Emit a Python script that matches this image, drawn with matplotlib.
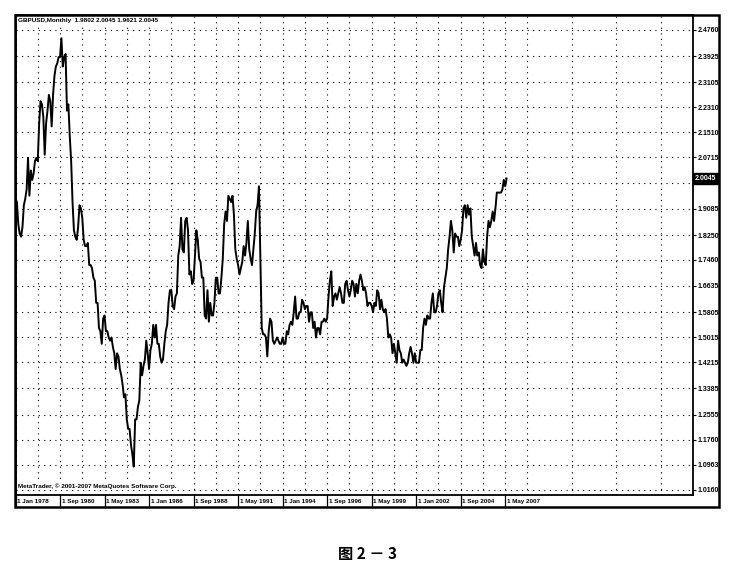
import numpy as np
import matplotlib.pyplot as plt
from matplotlib.patches import Rectangle
from matplotlib.transforms import blended_transform_factory

# GBPUSD monthly closes, Jan 1978 .. Jun 2007
c1978 = [1.94, 1.93, 1.86, 1.83, 1.82, 1.85, 1.92, 1.94, 1.97, 2.07, 1.95, 2.03]
c1979 = [2.00, 2.02, 2.06, 2.07, 2.06, 2.18, 2.25, 2.24, 2.20, 2.08, 2.18, 2.22]
c1980 = [2.27, 2.25, 2.17, 2.27, 2.33, 2.36, 2.37, 2.39, 2.39, 2.45, 2.36, 2.39]
c1981 = [2.40, 2.22, 2.24, 2.14, 2.06, 1.93, 1.84, 1.82, 1.81, 1.85, 1.92, 1.91]
c1982 = [1.88, 1.81, 1.79, 1.79, 1.80, 1.73, 1.73, 1.72, 1.69, 1.68, 1.61, 1.61]
c1983 = [1.53, 1.52, 1.48, 1.56, 1.57, 1.52, 1.52, 1.50, 1.49, 1.50, 1.47, 1.45]
c1984 = [1.40, 1.45, 1.44, 1.40, 1.38, 1.35, 1.31, 1.32, 1.24, 1.21, 1.21, 1.16]
c1985 = [1.13, 1.09, 1.24, 1.24, 1.28, 1.30, 1.42, 1.38, 1.41, 1.43, 1.49, 1.45]
c1986 = [1.40, 1.46, 1.48, 1.54, 1.50, 1.54, 1.48, 1.48, 1.44, 1.42, 1.43, 1.48]
c1987 = [1.52, 1.54, 1.61, 1.65, 1.65, 1.60, 1.59, 1.63, 1.64, 1.76, 1.79, 1.88]
c1988 = [1.78, 1.77, 1.87, 1.88, 1.84, 1.70, 1.71, 1.67, 1.68, 1.76, 1.84, 1.81]
c1989 = [1.75, 1.74, 1.69, 1.69, 1.57, 1.56, 1.65, 1.55, 1.61, 1.57, 1.57, 1.61]
c1990 = [1.69, 1.69, 1.64, 1.64, 1.69, 1.75, 1.86, 1.90, 1.87, 1.95, 1.94, 1.93]
c1991 = [1.95, 1.89, 1.78, 1.75, 1.73, 1.70, 1.72, 1.74, 1.79, 1.76, 1.80, 1.87]
c1992 = [1.78, 1.75, 1.73, 1.78, 1.83, 1.90, 1.92, 1.98, 1.75, 1.53, 1.51, 1.51]
c1993 = [1.50, 1.44, 1.52, 1.56, 1.55, 1.49, 1.48, 1.49, 1.50, 1.49, 1.48, 1.48]
c1994 = [1.50, 1.48, 1.48, 1.52, 1.51, 1.54, 1.55, 1.54, 1.58, 1.63, 1.56, 1.56]
c1995 = [1.58, 1.58, 1.62, 1.61, 1.59, 1.60, 1.60, 1.55, 1.58, 1.58, 1.53, 1.55]
c1996 = [1.50, 1.53, 1.53, 1.51, 1.55, 1.55, 1.56, 1.55, 1.56, 1.63, 1.68, 1.71]
c1997 = [1.60, 1.63, 1.64, 1.62, 1.64, 1.66, 1.64, 1.61, 1.61, 1.67, 1.68, 1.65]
c1998 = [1.63, 1.65, 1.68, 1.67, 1.63, 1.67, 1.64, 1.68, 1.70, 1.68, 1.65, 1.66]
c1999 = [1.64, 1.60, 1.61, 1.61, 1.60, 1.58, 1.61, 1.60, 1.65, 1.64, 1.59, 1.62]
c2000 = [1.59, 1.58, 1.59, 1.56, 1.50, 1.51, 1.50, 1.45, 1.48, 1.45, 1.42, 1.49]
c2001 = [1.46, 1.45, 1.42, 1.43, 1.42, 1.41, 1.42, 1.45, 1.47, 1.45, 1.42, 1.45]
c2002 = [1.42, 1.42, 1.42, 1.46, 1.46, 1.53, 1.56, 1.54, 1.57, 1.56, 1.56, 1.61]
c2003 = [1.64, 1.58, 1.58, 1.60, 1.64, 1.65, 1.61, 1.58, 1.66, 1.69, 1.72, 1.78]
c2004 = [1.82, 1.87, 1.84, 1.77, 1.83, 1.82, 1.82, 1.79, 1.81, 1.84, 1.91, 1.92]
c2005 = [1.88, 1.92, 1.89, 1.91, 1.82, 1.79, 1.76, 1.80, 1.76, 1.77, 1.73, 1.72]
c2006 = [1.78, 1.74, 1.73, 1.82, 1.87, 1.85, 1.87, 1.90, 1.87, 1.91, 1.96, 1.96]
c2007 = [1.96, 1.96, 1.97, 2.00, 1.98, 2.0045]

years = [c1978, c1979, c1980, c1981, c1982, c1983, c1984, c1985, c1986, c1987,
         c1988, c1989, c1990, c1991, c1992, c1993, c1994, c1995, c1996, c1997,
         c1998, c1999, c2000, c2001, c2002, c2003, c2004, c2005, c2006, c2007]

date_labels = ['1 Jan 1978', '1 Sep 1980', '1 May 1983', '1 Jan 1986', '1 Sep 1988',
               '1 May 1991', '1 Jan 1994', '1 Sep 1996', '1 May 1999', '1 Jan 2002',
               '1 Sep 2004', '1 May 2007']
price_labels = ['2.4760', '2.3925', '2.3105', '2.2310', '2.1510', '2.0715', '1.9905',
                '1.9085', '1.8250', '1.7460', '1.6635', '1.5805', '1.5015', '1.4215',
                '1.3385', '1.2555', '1.1760', '1.0963', '1.0160']
last_price = 2.0045
header = 'GBPUSD,Monthly  1.9802 2.0045 1.9621 2.0045'
footer = 'MetaTrader, \u00a9 2001-2007 MetaQuotes Software Corp.'
caption = '图 2 － 3'

W, H = 750, 568
small = 'Liberation Sans'

closes = np.concatenate([np.array(y) for y in years])
months = np.arange(len(closes))

fig = plt.figure(figsize=(W / 100, H / 100), dpi=100)
fig.patch.set_facecolor('white')

# plot area in pixel coords
x0, x1, y0, y1 = 15.5, 693, 15, 495
ax = fig.add_axes([x0 / W, 1 - y1 / H, (x1 - x0) / W, (y1 - y0) / H])

ax.plot(months, closes, color='black', lw=1.4, zorder=3)

ax.set_xlim(0, 487)
ax.set_ylim(1.0001, 2.5236)

# vertical grid every 16 bars, labelled ticks every 32 bars
ax.set_xticks(np.arange(0, len(date_labels) * 32, 32))
ax.set_xticks(np.arange(16, 487, 32), minor=True)
ax.tick_params(axis='x', which='major', length=8.6, width=0.9, direction='out',
               labelbottom=False)
ax.tick_params(axis='x', which='minor', length=0)

ticks_y = [float(v) for v in price_labels]
ax.set_yticks(ticks_y)
ax.yaxis.tick_right()
ax.set_yticklabels(price_labels)
ax.tick_params(axis='y', length=2.5, width=0.8, pad=0.8, labelsize=5)
for lbl in ax.get_yticklabels():
    lbl.set_fontfamily(small)
    lbl.set_fontweight('bold')

ax.grid(True, which='both', axis='x', color='black', lw=0.8, ls=(0, (1, 4)))
ax.grid(True, which='major', axis='y', color='black', lw=0.8, ls=(0, (1, 4)))
ax.set_axisbelow(True)

for s in ax.spines.values():
    s.set_linewidth(1.3)

# date labels under the axis
tr = blended_transform_factory(ax.transData, fig.transFigure)
for i, lab in enumerate(date_labels):
    ax.text(i * 32 + 1.2, 1 - 501.5 / H, lab, transform=tr, ha='left', va='center',
            fontsize=4.5, fontweight='bold', family=small, clip_on=False)

white_box = dict(boxstyle='square,pad=0.15', fc='white', ec='none')
ax.text(0.004, 0.993, header, transform=ax.transAxes, ha='left', va='top',
        fontsize=4.6, fontweight='bold', family=small, zorder=5, bbox=white_box)
ax.text(0.004, 0.012, footer, transform=ax.transAxes, ha='left', va='bottom',
        fontsize=4.6, fontweight='bold', family=small, zorder=5, bbox=white_box)

# current price marker on the price scale
trp = blended_transform_factory(ax.transAxes, ax.transData)
ax.text(1.003, last_price, '%.4f' % last_price, transform=trp, ha='left', va='center',
        fontsize=5, fontweight='bold', family=small, color='white', zorder=10,
        bbox=dict(boxstyle='square,pad=0.25', fc='black', ec='black'), clip_on=False)

# outer frame
fig.add_artist(Rectangle((15 / W, 1 - 507 / H), (719 - 15) / W, (507 - 15) / H,
                         transform=fig.transFigure, fill=False, ec='black', lw=1.8))

fig.text(368 / W, 1 - 554 / H, caption, ha='center', va='center', fontsize=11,
         fontweight='bold', family=['Noto Sans CJK SC', 'DejaVu Sans'])

fig.savefig('out.png', dpi=100)
